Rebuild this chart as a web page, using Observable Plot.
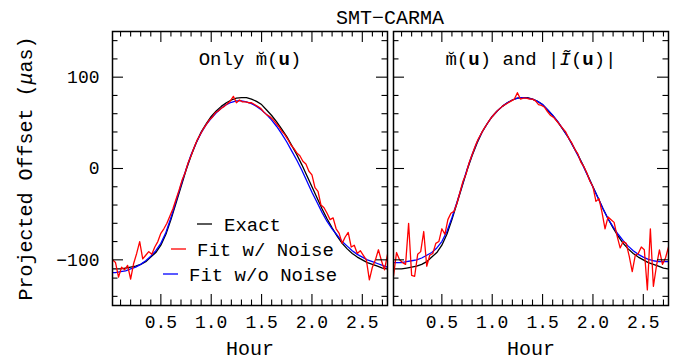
<!DOCTYPE html>
<html><head><meta charset="utf-8">
<script src="https://cdn.jsdelivr.net/npm/d3@7"></script>
<script src="https://cdn.jsdelivr.net/npm/@observablehq/plot@0.6"></script>
<style>
body{margin:0;background:#fff}
#chart{position:relative;width:680px;height:362px}
</style>
</head><body><div id="chart"></div>
<script>
const chartTitle = "SMT−CARMA";
const panels = ["Only", "Both"];
const panelTitles = ["Only m̆(u)", "m̆(u) and |Ĩ(u)|"];
const seriesNames = ["Exact", "Fit w/ Noise", "Fit w/o Noise"];
const seriesColors = ["#000000", "#ff0000", "#0000ff"];

const smoothHours = [0.00,0.05,0.10,0.15,0.20,0.25,0.30,0.35,0.40,0.45,0.50,0.55,0.60,0.65,0.70,0.75,0.80,0.85,0.90,0.95,
  1.00,1.05,1.10,1.15,1.20,1.25,1.30,1.35,1.40,1.45,1.50,1.55,1.60,1.65,1.70,1.75,1.80,1.85,1.90,1.95,
  2.00,2.05,2.10,2.15,2.20,2.25,2.30,2.35,2.40,2.45,2.50,2.55,2.60,2.65,2.70,2.75];
const exact = [-110,-110,-110,-109,-108,-107,-105,-102,-97,-92,-84,-72,-56,-38,-20,-2,14,28,40,49,
  57,63,68,72,75,77,77.5,77.5,76,73.5,70,64,58,51,43,35,25,15,4,-8,
  -20,-32,-44,-55,-65,-74,-82,-88,-93,-97,-100,-103,-105,-107,-109,-110];
const fitNoNoiseOnly = [-114,-114,-113,-112,-110,-108,-105,-101,-96,-90,-82,-70,-54,-36,-18,-1,15,28,39,48,
  55,61,66,70,72.5,74,74,73,71,68,64,59,53,46,38,29,19,9,-2,-14,
  -26,-37,-48,-58,-66,-73,-80,-85,-90,-94,-97,-100,-102,-104,-106,-108];
const fitNoNoiseBoth = [-103,-103,-103,-102,-101,-100,-98,-95,-92,-87,-80,-69,-54,-37,-19,-1,15,29,40,49,
  57,63,68,72,75,77,77.5,77,76,73.5,70,64.5,58.5,51.5,43.5,35,25,14.5,3.5,-8.5,
  -20.5,-32,-44,-55,-64,-72,-79,-85,-90,-94,-97,-99.5,-101,-102,-102,-102];

const noiseHours = [0.02,0.05,0.08,0.11,0.14,0.17,0.20,0.23,0.26,0.29,0.32,0.35,0.38,0.41,0.44,0.47,0.50,0.53,0.56,0.59,
  0.62,0.65,0.68,0.71,0.74,0.77,0.80,0.83,0.86,0.89,0.92,0.95,0.98,1.01,1.04,1.07,1.10,1.13,1.16,1.19,
  1.22,1.25,1.28,1.31,1.34,1.37,1.40,1.43,1.46,1.49,1.52,1.55,1.58,1.61,1.64,1.67,1.70,1.73,1.76,1.79,
  1.82,1.85,1.88,1.91,1.94,1.97,2.00,2.03,2.06,2.09,2.12,2.15,2.18,2.21,2.24,2.27,2.30,2.33,2.36,2.39,
  2.42,2.45,2.48,2.51,2.54,2.57,2.60,2.63,2.66,2.69,2.72,2.75];
const fitNoiseOnly = [-100,-103,-119,-108,-111,-106,-121,-104,-93,-80,-99,-95,-91,-94,-86,-80,-71,-66,-60,-52,
  -44,-34,-24,-13,-5,6,14,23,31,37,43,48,53,56,61,63,66,68,71,74,
  79,72,75,73,73,72,72,70,68,66,62,59,57,54,50,46,41,37,32,26,
  22,17,14,8,5,-3,-7,-21,-25,-40,-43,-49,-56,-54,-66,-71,-82,-75,-70,-86,
  -84,-93,-90,-95,-100,-122,-108,-100,-89,-101,-111,-94];
const fitNoiseBoth = [-118,-92,-100,-103,-105,-60,-117,-118,-94,-91,-69,-107,-95,-93,-82,-80,-66,-72,-56,-49,
  -47,-38,-26,-14,-6,6,15,24,32,38,44,49,54,58,62,65,68,70,72,74,
  76,83,76,77,77,76,76,74,70,69,67,62,58,56,52,48,44,40,33,28,
  21,16,7,2,-5,-14,-20,-36,-33,-48,-66,-53,-56,-59,-74,-87,-80,-82,-96,-113,
  -95,-93,-86,-89,-133,-66,-129,-107,-89,-105,-98,-86];

const xMajorTicks = [0.5, 1.0, 1.5, 2.0, 2.5];
const xTickLabels = ["0.5", "1.0", "1.5", "2.0", "2.5"];
const xMinorTicks = [0.1,0.2,0.3,0.4,0.6,0.7,0.8,0.9,1.1,1.2,1.3,1.4,1.6,1.7,1.8,1.9,2.1,2.2,2.3,2.4,2.6,2.7];
const yMajorTicks = [-100, 0, 100];
const yTickLabels = ["−100", "0", "100"];
const yMinorTicks = [-140,-120,-80,-60,-40,-20,20,40,60,80,120,140];
const xLabel = "Hour";
const yLabel = "Projected Offset (μas)";

// build tables
const rows = [];
panels.forEach(p => smoothHours.forEach((h, i) => rows.push({panel: p, series: "Exact", hour: h, value: exact[i]})));
smoothHours.forEach((h, i) => rows.push({panel: "Only", series: "Fit w/o Noise", hour: h, value: fitNoNoiseOnly[i]}));
smoothHours.forEach((h, i) => rows.push({panel: "Both", series: "Fit w/o Noise", hour: h, value: fitNoNoiseBoth[i]}));
noiseHours.forEach((h, i) => rows.push({panel: "Only", series: "Fit w/ Noise", hour: h, value: fitNoiseOnly[i]}));
noiseHours.forEach((h, i) => rows.push({panel: "Both", series: "Fit w/ Noise", hour: h, value: fitNoiseBoth[i]}));
const bySeries = s => rows.filter(r => r.series === s);

const W = 680, H = 362, MT = 31, MB = 57, ML = 112, MR = 12;
const FH = H - MT - MB;
const gap = 6;
const FW = (W - ML - MR - gap) / 2;
const pad = gap / (FW + gap);
const FONT = "Liberation Mono";
const major = 11, minor = 5.5;

const lineOpts = s => ({fx: "panel", x: "hour", y: "value", z: "panel", stroke: seriesColors[seriesNames.indexOf(s)], strokeWidth: 1.3, clip: true, curve: "linear"});

const chart = Plot.plot({
  width: W, height: H,
  marginTop: MT, marginBottom: MB, marginLeft: ML, marginRight: MR,
  style: {fontFamily: FONT, fontSize: "19px", background: "white", color: "black", overflow: "visible"},
  fx: {domain: panels, paddingInner: pad, paddingOuter: 0, axis: null, label: null, round: false},
  x: {domain: [0.02, 2.75], axis: null},
  y: {domain: [-150, 150], axis: null},
  marks: [
    Plot.line(bySeries("Exact"), lineOpts("Exact")),
    Plot.line(bySeries("Fit w/o Noise"), lineOpts("Fit w/o Noise")),
    Plot.line(bySeries("Fit w/ Noise"), lineOpts("Fit w/ Noise")),
    // ticks bottom/top
    Plot.tickX(xMinorTicks, {x: d => d, insetTop: FH - minor, stroke: "black", strokeWidth: 1.1}),
    Plot.tickX(xMinorTicks, {x: d => d, insetBottom: FH - minor, stroke: "black", strokeWidth: 1.1}),
    Plot.tickX(xMajorTicks, {x: d => d, insetTop: FH - major, stroke: "black", strokeWidth: 1.1}),
    Plot.tickX(xMajorTicks, {x: d => d, insetBottom: FH - major, stroke: "black", strokeWidth: 1.1}),
    // ticks left/right
    Plot.tickY(yMinorTicks, {y: d => d, insetRight: FW - minor, stroke: "black", strokeWidth: 1.1}),
    Plot.tickY(yMinorTicks, {y: d => d, insetLeft: FW - minor, stroke: "black", strokeWidth: 1.1}),
    Plot.tickY(yMajorTicks, {y: d => d, insetRight: FW - major, stroke: "black", strokeWidth: 1.1}),
    Plot.tickY(yMajorTicks, {y: d => d, insetLeft: FW - major, stroke: "black", strokeWidth: 1.1}),
    Plot.frame({stroke: "black", strokeWidth: 1.5}),
    // tick labels
    Plot.text(xMajorTicks, {x: d => d, text: (d, i) => xTickLabels[i], frameAnchor: "bottom", dy: 22, fontSize: 18, fill: "black"}),
    Plot.text(yMajorTicks, {y: d => d, fx: () => "Only", text: (d, i) => yTickLabels[i], frameAnchor: "left", dx: -13, textAnchor: "end", fontSize: 18, fill: "black"}),
    // axis labels
    Plot.text(panels, {fx: d => d, text: () => xLabel, frameAnchor: "bottom", dy: 49, fontSize: 20, fill: "black"}),
    Plot.text([yLabel], {fx: () => "Only", text: d => d, frameAnchor: "left", dx: -87, rotate: -90, textAnchor: "middle", fontSize: 20, fill: "black"}),
    // panel titles
    Plot.text(panels, {fx: d => d, text: (d, i) => panelTitles[i], frameAnchor: "top", dy: 20, textAnchor: "middle", fontSize: 19, fill: "black"})
  ]
});

document.getElementById("chart").appendChild(chart);
const svg = d3.select(chart);

// rich text for titles and y label
svg.selectAll("text").each(function () {
  const t = this.textContent;
  if (t === panelTitles[0]) {
    this.innerHTML = 'Only m̆(<tspan font-weight="bold">u</tspan>)';
  } else if (t === panelTitles[1]) {
    this.innerHTML = 'm̆(<tspan font-weight="bold">u</tspan>) and |<tspan font-style="italic">Ĩ</tspan>(<tspan font-weight="bold">u</tspan>)|';
  } else if (t === yLabel) {
    this.innerHTML = 'Projected Offset (<tspan font-style="italic">μ</tspan>as)';
  }
});

// title
svg.append("text")
  .attr("x", ML + (W - ML - MR) / 2).attr("y", 24)
  .attr("text-anchor", "middle").attr("font-family", FONT).attr("font-size", 20).attr("fill", "black")
  .text(chartTitle);

// legend (left panel)
const legendRows = [
  {name: seriesNames[0], lx: 197, tx: 224, y: 224},
  {name: seriesNames[1], lx: 171, tx: 197, y: 249},
  {name: seriesNames[2], lx: 163, tx: 189, y: 274}
];
const lg = svg.append("g").attr("font-family", FONT).attr("font-size", 19).attr("text-anchor", "start");
legendRows.forEach(r => {
  const c = seriesColors[seriesNames.indexOf(r.name)];
  lg.append("line").attr("x1", r.lx).attr("x2", r.lx + 15).attr("y1", r.y).attr("y2", r.y).attr("stroke", c).attr("stroke-width", 1.3);
  lg.append("text").attr("x", r.tx).attr("y", r.y).attr("dy", "0.35em").attr("fill", "black").attr("text-anchor", "start").text(r.name);
});
</script></body></html>
